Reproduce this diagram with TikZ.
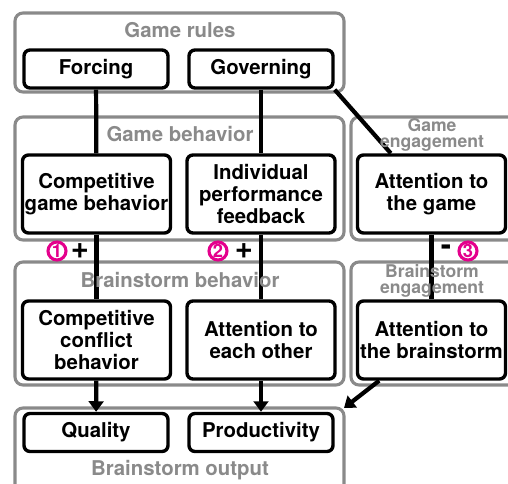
\documentclass[tikz,border=0pt]{standalone}
\usepackage{fontspec}
\setmainfont{TeX Gyre Heros}
\usetikzlibrary{arrows.meta}
\definecolor{grpgray}{RGB}{138,138,138}
\definecolor{nummag}{RGB}{228,0,140}

\begin{document}
\begin{tikzpicture}[x=0.025cm,y=-0.025cm,>={Triangle[length=7.5pt,width=10.5pt]},
    box/.style={draw,line width=2.4pt,rounded corners=0.15cm,fill=white,align=center,inner sep=0pt,
        font=\fontsize{14.5}{15.8}\selectfont\bfseries},
    smallbox/.style={box,minimum width=3.6cm,minimum height=0.95cm},
    bigbox/.style={box,minimum width=3.7cm,minimum height=1.95cm},
    group/.style={draw=grpgray,line width=2.2pt,rounded corners=0.2cm},
    grouplabel/.style={text=grpgray,font=\fontsize{14.5}{15}\selectfont\bfseries},
    smalllabel/.style={text=grpgray,align=center,font=\fontsize{12.5}{11}\selectfont\bfseries},
    link/.style={line width=3pt},
    num/.style={circle,draw=nummag,text=nummag,line width=2.2pt,inner sep=0pt,minimum size=0.45cm,
        font=\fontsize{13}{13}\selectfont\bfseries},
    sign/.style={font=\fontsize{22}{22}\selectfont\bfseries}]
    \useasboundingbox (0,0) rectangle (508,484);

    % groups
    \draw[group] (15,13) rectangle (344,92);
    \draw[group] (15,117) rectangle (344,240);
    \draw[group] (351,117) rectangle (520,240);
    \draw[group] (15,262) rectangle (344,385);
    \draw[group] (351,262) rectangle (520,385);
    \draw[group] (15,408) rectangle (344,495);
    \coordinate (outcorner) at (344,408);

    % boxes
    \node[smallbox] (forcing) at (96,69) {Forcing};
    \node[smallbox] (governing) at (261,69) {Governing};
    \node[bigbox] (compgame) at (96.5,194) {Competitive\\game behavior};
    \node[bigbox] (feedback) at (261,194) {Individual\\performance\\feedback};
    \node[bigbox] (attgame) at (431.5,194) {Attention to\\the game};
    \node[bigbox] (conflict) at (96.5,340) {Competitive\\conflict\\behavior};
    \node[bigbox] (eachother) at (261,340) {Attention to\\each other};
    \node[bigbox] (attbrain) at (431.5,340) {Attention to\\the brainstorm};
    \node[smallbox] (quality) at (96,432.5) {Quality};
    \node[smallbox] (productivity) at (261,432.5) {Productivity};

    % links
    \draw[link] (forcing) -- (compgame);
    \draw[link] (compgame) -- (conflict);
    \draw[link,->] (conflict) -- (quality);
    \draw[link] (governing) -- (feedback);
    \draw[link] (feedback) -- (eachother);
    \draw[link,->] (eachother) -- (productivity);
    \draw[link] (governing.south east) -- (attgame.135);
    \draw[link] (attgame) -- (attbrain);
    \draw[link,->] (attbrain) -- (outcorner);

    % group labels
    \node[grouplabel] (rules) at (180,30) {Game rules};
    \node[grouplabel] (gamebeh) at (180,134) {Game behavior};
    \node[grouplabel] (brainbeh) at (180,280) {Brainstorm behavior};
    \node[grouplabel] (brainout) at (180,470) {Brainstorm output};
    \node[smalllabel] (gameeng) at (432,135) {Game\\engagement};
    \node[smalllabel] (braineng) at (432,281) {Brainstorm\\engagement};

    % effects
    \node[num] (one) at (57,251) {1};
    \node[sign] (plusone) at (80,251) {+};
    \node[num] (two) at (218,251) {2};
    \node[sign] (plustwo) at (244,251) {+};
    \node[sign] (minus) at (446,250) {-};
    \node[num] (three) at (468,251) {3};
\end{tikzpicture}
\end{document}
